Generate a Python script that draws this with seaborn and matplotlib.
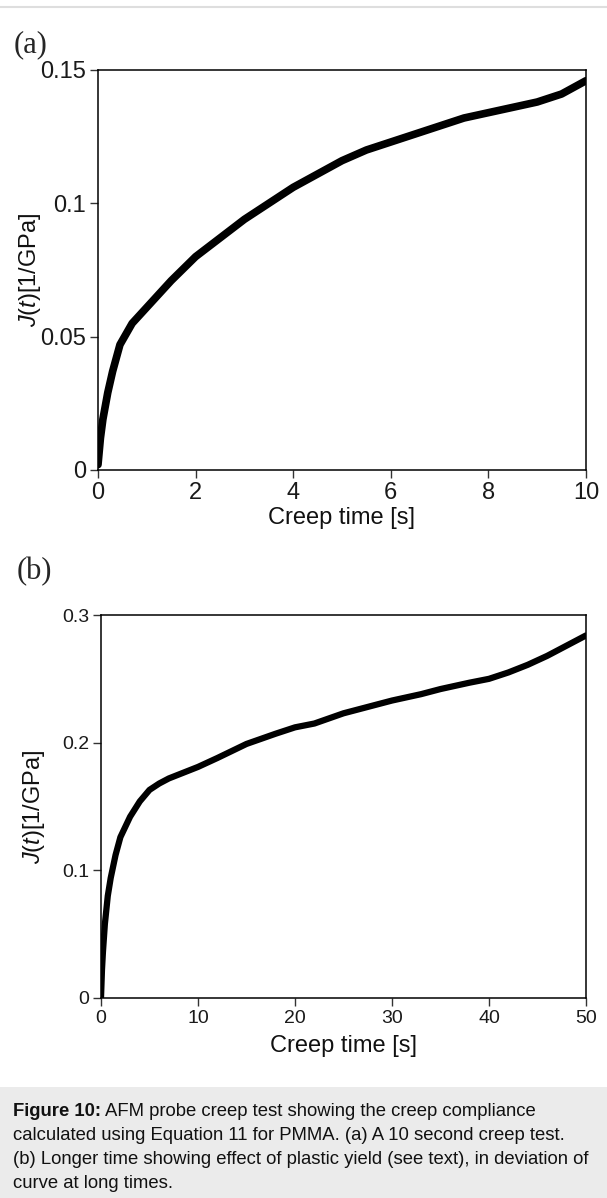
import numpy as np
import pandas as pd
import matplotlib
matplotlib.use('Agg')
import matplotlib.pyplot as plt
import seaborn as sns
from matplotlib.patches import Rectangle
from matplotlib.lines import Line2D

# panel (a): 10 s creep test
t_a = [0, 0.05, 0.1, 0.2, 0.3, 0.45, 0.7, 1.0, 1.5, 2.0, 2.5, 3.0, 3.5, 4.0, 4.5,
       5.0, 5.5, 6.0, 6.5, 7.0, 7.5, 8.0, 8.5, 9.0, 9.5, 10]
j_a = [0.002, 0.012, 0.019, 0.029, 0.037, 0.047, 0.055, 0.061, 0.071, 0.080, 0.087,
       0.094, 0.100, 0.106, 0.111, 0.116, 0.120, 0.123, 0.126, 0.129, 0.132, 0.134,
       0.136, 0.138, 0.141, 0.146]

# panel (b): 50 s creep test
t_b = [0, 0.1, 0.2, 0.4, 0.7, 1.0, 1.5, 2, 3, 4, 5, 6, 7, 8, 10, 12, 15, 18, 20, 22,
       25, 28, 30, 33, 35, 38, 40, 42, 44, 46, 48, 50]
j_b = [0, 0.022, 0.036, 0.058, 0.080, 0.094, 0.112, 0.126, 0.142, 0.154, 0.163, 0.168,
       0.172, 0.175, 0.181, 0.188, 0.199, 0.207, 0.212, 0.215, 0.223, 0.229, 0.233,
       0.238, 0.242, 0.247, 0.250, 0.255, 0.261, 0.268, 0.276, 0.284]

yticks_a = [0, 0.05, 0.1, 0.15]
yticklabels_a = ['0', '0.05', '0.1', '0.15']
xticks_a = [0, 2, 4, 6, 8, 10]
yticks_b = [0, 0.1, 0.2, 0.3]
yticklabels_b = ['0', '0.1', '0.2', '0.3']
xticks_b = [0, 10, 20, 30, 40, 50]

sns.set_style('ticks')
plt.rcParams['font.family'] = ['Liberation Sans', 'DejaVu Sans']
plt.rcParams['mathtext.fontset'] = 'custom'
plt.rcParams['mathtext.it'] = 'Liberation Sans:italic'
plt.rcParams['mathtext.rm'] = 'Liberation Sans'

W, H = 607, 1198
fig = plt.figure(figsize=(W / 100, H / 100), dpi=100)


def box(l, t, r, b):
    return [l / W, 1 - b / H, (r - l) / W, (b - t) / H]


def style_axes(ax, tick_size):
    for s in ax.spines.values():
        s.set_visible(True)
        s.set_color('black')
        s.set_linewidth(1.1)
    ax.tick_params(direction='out', length=5.5, width=1.0, color='#333333',
                   labelsize=tick_size, pad=3, labelcolor='#1a1a1a')
    ax.set_ylabel(r'$J$($t$)[1/GPa]', fontsize=17, color='#111111')
    ax.set_xlabel('Creep time [s]', fontsize=17, color='#111111', labelpad=2)


df_a = pd.DataFrame({'t': t_a, 'J': j_a})
ax_a = fig.add_axes(box(98, 70, 586, 470))
sns.lineplot(data=df_a, x='t', y='J', ax=ax_a, color='black', linewidth=5.5)
ax_a.set_xlim(0, 10)
ax_a.set_ylim(0, 0.15)
ax_a.set_xticks(xticks_a)
ax_a.set_yticks(yticks_a, yticklabels_a)
style_axes(ax_a, 17)
ax_a.yaxis.set_label_coords(-0.112, 0.5)

df_b = pd.DataFrame({'t': t_b, 'J': j_b})
ax_b = fig.add_axes(box(101, 615, 586, 998))
sns.lineplot(data=df_b, x='t', y='J', ax=ax_b, color='black', linewidth=4.5)
ax_b.set_xlim(0, 50)
ax_b.set_ylim(0, 0.3)
ax_b.set_xticks(xticks_b)
ax_b.set_yticks(yticks_b, yticklabels_b)
style_axes(ax_b, 14)
ax_b.yaxis.set_label_coords(-0.112, 0.5)
ax_b.xaxis.labelpad = 6

# panel letters
fig.text(14 / W, 1 - 45 / H, '(a)', family='Liberation Serif', fontsize=22,
         va='center', ha='left')
fig.text(17 / W, 1 - 572 / H, '(b)', family='Liberation Serif', fontsize=22,
         va='center', ha='left')

# thin rule at the top
fig.add_artist(Line2D([0, 1], [1 - 7 / H, 1 - 7 / H], color='#dedede', linewidth=1.5))

# caption box
fig.patches.append(Rectangle((0, 0), 1, 111 / H, transform=fig.transFigure,
                             facecolor='#ebebeb', edgecolor='none', zorder=0))
cap_lines = [
    'AFM probe creep test showing the creep compliance',
    'calculated using Equation 11 for PMMA. (a) A 10 second creep test.',
    '(b) Longer time showing effect of plastic yield (see text), in deviation of',
    'curve at long times.',
]
cap_y = [1111, 1135, 1159, 1183]
cap_size = 13.3
x0 = 13 / W
bold = fig.text(x0, 1 - cap_y[0] / H, 'Figure 10:', fontsize=cap_size,
                fontweight='bold', va='center', color='#111111')
fig.canvas.draw()
bb = bold.get_window_extent(fig.canvas.get_renderer())
fig.text(bb.x1 / W + 4 / W, 1 - cap_y[0] / H, cap_lines[0], fontsize=cap_size,
         va='center', color='#111111')
for line, y in zip(cap_lines[1:], cap_y[1:]):
    fig.text(x0, 1 - y / H, line, fontsize=cap_size, va='center', color='#111111')

fig.savefig('out.png', dpi=100)
